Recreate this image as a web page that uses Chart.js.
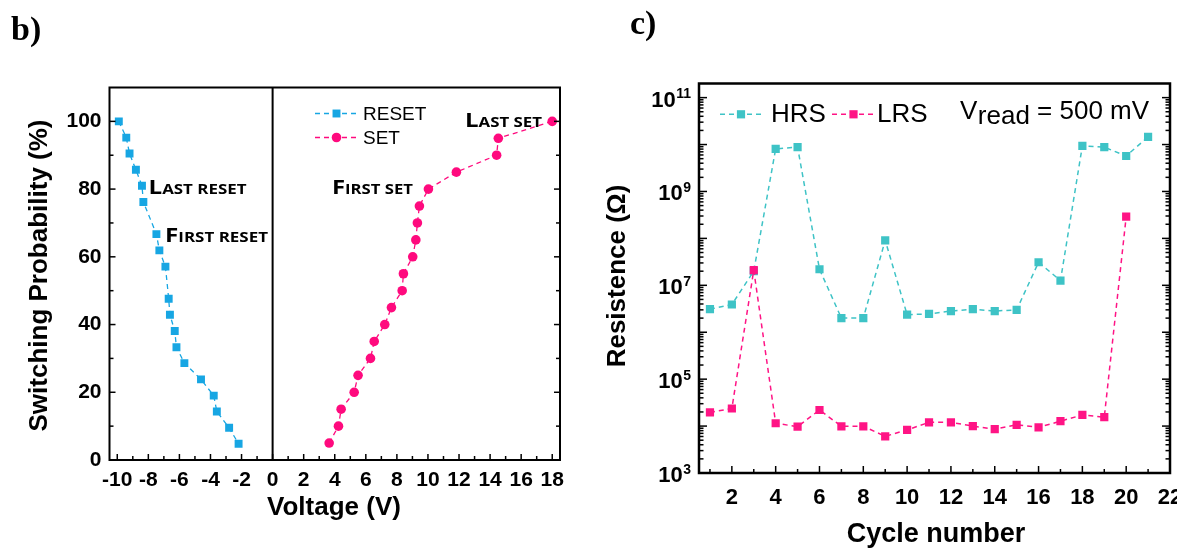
<!DOCTYPE html>
<html>
<head>
<meta charset="utf-8">
<script src="https://cdn.jsdelivr.net/npm/chart.js@4.4.0/dist/chart.umd.min.js"></script>
<style>
  html, body { margin: 0; padding: 0; background: #fff; overflow: hidden; width: 1177px; height: 549px; }
  canvas { position: absolute; top: 0; }
  #chartB { left: 0; }
  #chartC { left: 590px; }
</style>
</head>
<body>
<canvas id="chartB" width="600" height="549"></canvas>
<canvas id="chartC" width="620" height="549"></canvas>
<script>
// panel b - switching probability
const resetVoltage = [-9.9, -9.42, -9.21, -8.8, -8.41, -8.32, -7.48, -7.29, -6.9, -6.69, -6.61, -6.3, -6.19, -5.68, -4.61, -3.79, -3.59, -2.8, -2.19];
const resetProb = [100, 95.2, 90.5, 85.7, 81.0, 76.2, 66.7, 61.9, 57.1, 47.6, 42.9, 38.1, 33.3, 28.6, 23.8, 19.0, 14.3, 9.5, 4.8];
const setVoltage = [3.64, 4.24, 4.41, 5.25, 5.5, 6.3, 6.54, 7.22, 7.65, 8.34, 8.42, 9.02, 9.22, 9.32, 9.45, 10.03, 11.83, 14.42, 14.53, 18.0];
const setProb = [5, 10, 15, 20, 25, 30, 35, 40, 45, 50, 55, 60, 65, 70, 75, 80, 85, 90, 95, 100];
const voltTicks = [-10, -8, -6, -4, -2, 0, 2, 4, 6, 8, 10, 12, 14, 16, 18];
const voltLabels = ['-10', '-8', '-6', '-4', '-2', '0', '2', '4', '6', '8', '10', '12', '14', '16', '18'];
const probTicks = [0, 20, 40, 60, 80, 100];
const probLabels = ['0', '20', '40', '60', '80', '100'];

// panel c - resistance vs cycle
const cycles = [1, 2, 3, 4, 5, 6, 7, 8, 9, 10, 11, 12, 13, 14, 15, 16, 17, 18, 19, 20, 21];
const hrs = [3.1e6, 3.9e6, 2.0e7, 8.1e9, 8.8e9, 2.2e7, 2.0e6, 2.0e6, 9.1e7, 2.37e6, 2.45e6, 2.83e6, 3.1e6, 2.83e6, 3.0e6, 3.1e7, 1.26e7, 9.4e9, 8.8e9, 5.7e9, 1.46e10];
const lrs = [1.95e4, 2.37e4, 2.1e7, 1.15e4, 9.7e3, 2.2e4, 9.9e3, 9.9e3, 6.05e3, 8.3e3, 1.2e4, 1.2e4, 1.0e4, 8.6e3, 1.06e4, 9.4e3, 1.27e4, 1.73e4, 1.55e4, 2.9e8];
const cycleTicks = [2, 4, 6, 8, 10, 12, 14, 16, 18, 20, 22];
const cycleLabels = ['2', '4', '6', '8', '10', '12', '14', '16', '18', '20', '22'];
const resistTicks = [1e3, 1e5, 1e7, 1e9, 1e11];
const resistExponents = ['3', '5', '7', '9', '11'];

const SANS = "'Liberation Sans', Arial, sans-serif";
const BLUE = '#17a6e3';
const PINK = '#ff0a7e';
const TEAL = '#3ec3c6';
const PINK2 = '#ff1485';

function line(ctx, x1, y1, x2, y2) {
  ctx.beginPath(); ctx.moveTo(x1, y1); ctx.lineTo(x2, y2); ctx.stroke();
}

function marker(ctx, style, x, y, r, color) {
  ctx.fillStyle = color;
  ctx.beginPath();
  if (style === 'rect') {
    const s = Math.SQRT1_2 * r;
    ctx.rect(x - s, y - s, 2 * s, 2 * s);
  } else {
    ctx.arc(x, y, r, 0, Math.PI * 2);
  }
  ctx.fill();
}

function legendRow(ctx, ds, x1, x2, y) {
  ctx.save();
  ctx.strokeStyle = ds.borderColor;
  ctx.lineWidth = ds.borderWidth;
  ctx.setLineDash(ds.borderDash);
  line(ctx, x1, y, x2, y);
  ctx.setLineDash([]);
  marker(ctx, ds.pointStyle, (x1 + x2) / 2, y, ds.pointRadius, ds.pointBackgroundColor);
  ctx.restore();
}

// small caps label squeezed to a given width
function capsLabel(ctx, text, x, y, width) {
  const big = text[0], rest = text.slice(1).toUpperCase();
  const fBig = "bold 20px 'Open Sans', sans-serif";
  const fSmall = "bold 14px 'Open Sans', sans-serif";
  ctx.font = fBig; const wb = ctx.measureText(big).width;
  ctx.font = fSmall; const wr = ctx.measureText(rest).width;
  ctx.save();
  ctx.translate(x, y);
  ctx.scale(width / (wb + wr), 1);
  ctx.fillStyle = '#000';
  ctx.textAlign = 'left';
  ctx.textBaseline = 'alphabetic';
  ctx.font = fBig; ctx.fillText(big, 0, 0);
  ctx.font = fSmall; ctx.fillText(rest, wb, 0);
  ctx.restore();
}

function vTitle(ctx, text, x, y, font) {
  ctx.save();
  ctx.translate(x, y);
  ctx.rotate(-Math.PI / 2);
  ctx.font = font;
  ctx.fillStyle = '#000';
  ctx.textAlign = 'center';
  ctx.textBaseline = 'middle';
  ctx.fillText(text, 0, 0);
  ctx.restore();
}

const frameB = {
  id: 'frameB',
  beforeDatasetsDraw(chart) {
    const { ctx, chartArea: a, scales: { x } } = chart;
    ctx.save();
    ctx.strokeStyle = '#000';
    ctx.lineWidth = 2;
    const x0 = x.getPixelForValue(0);
    line(ctx, x0, a.top, x0, a.bottom);
    ctx.restore();
  },
  afterDraw(chart) {
    const { ctx, chartArea: a, scales: { x, y } } = chart;
    ctx.save();
    ctx.strokeStyle = '#000';
    ctx.lineWidth = 1.5;
    for (let v = -10; v <= 18; v++) {
      const px = x.getPixelForValue(v);
      line(ctx, px, a.bottom, px, a.bottom - (v % 2 === 0 ? 6 : 4));
    }
    for (let v = 10; v <= 100; v += 10) {
      const py = y.getPixelForValue(v);
      const len = v % 20 === 0 ? 6 : 4;
      line(ctx, a.left, py, a.left + len, py);
      line(ctx, a.right, py, a.right - len, py);
    }
    ctx.lineWidth = 2;
    ctx.strokeRect(a.left, a.top, a.right - a.left, a.bottom - a.top);

    const ds = chart.data.datasets;
    legendRow(ctx, ds[0], 315, 358, 113.5);
    legendRow(ctx, ds[1], 315, 358, 137.5);
    ctx.fillStyle = '#000';
    ctx.font = '19px ' + SANS;
    ctx.textAlign = 'left';
    ctx.textBaseline = 'alphabetic';
    ctx.fillText('RESET', 363, 120);
    ctx.fillText('SET', 363, 144.3);

    capsLabel(ctx, 'Last reset', 148.5, 194, 98);
    capsLabel(ctx, 'First reset', 165, 241.7, 103);
    capsLabel(ctx, 'First set', 332, 194.3, 81);
    capsLabel(ctx, 'Last set', 465, 126.7, 77);

    ctx.fillStyle = '#000';
    ctx.font = "bold 34px 'Liberation Serif', 'Times New Roman', serif";
    ctx.fillText('b)', 11, 40);

    vTitle(ctx, 'Switching Probability (%)', 40, 275.5, 'bold 26px ' + SANS);
    ctx.font = 'bold 26px ' + SANS;
    ctx.textAlign = 'center';
    ctx.textBaseline = 'middle';
    ctx.fillText('Voltage (V)', 334, 508);
    ctx.restore();
  }
};

const frameC = {
  id: 'frameC',
  afterDraw(chart) {
    const { ctx, chartArea: a, scales: { x, y } } = chart;
    ctx.save();
    ctx.strokeStyle = '#000';
    ctx.lineWidth = 1.5;
    for (let v = 1; v <= 21; v++) {
      const px = x.getPixelForValue(v);
      line(ctx, px, a.bottom, px, a.bottom - (v % 2 === 0 ? 7 : 4));
    }
    for (let e = 3; e <= 11; e++) {
      for (let m = 1; m <= 9; m++) {
        const val = m * Math.pow(10, e);
        if (val <= y.min || val >= y.max) continue;
        const py = y.getPixelForValue(val);
        const len = m === 1 ? 8 : 4.5;
        line(ctx, a.left, py, a.left + len, py);
        line(ctx, a.right, py, a.right - len, py);
      }
    }
    ctx.lineWidth = 2.5;
    ctx.strokeRect(a.left, a.top, a.right - a.left, a.bottom - a.top);

    // y tick labels: 10 with superscript exponent
    ctx.fillStyle = '#000';
    ctx.textAlign = 'right';
    ctx.textBaseline = 'alphabetic';
    resistTicks.forEach((v, i) => {
      const py = y.getPixelForValue(v);
      ctx.font = 'bold 14px ' + SANS;
      const ew = ctx.measureText(resistExponents[i]).width;
      ctx.fillText(resistExponents[i], a.left - 8, py + 0.5);
      ctx.font = 'bold 22px ' + SANS;
      ctx.fillText('10', a.left - 8.5 - ew, py + 9);
    });

    const ds = chart.data.datasets;
    legendRow(ctx, ds[0], 130, 172, 114.3);
    legendRow(ctx, ds[1], 242, 285, 114.3);
    ctx.fillStyle = '#000';
    ctx.font = '26px ' + SANS;
    ctx.textAlign = 'left';
    ctx.textBaseline = 'alphabetic';
    ctx.fillText('HRS', 181, 122);
    ctx.fillText('LRS', 287, 122);
    let vx = 370;
    ctx.fillText('V', vx, 118.5);
    vx += ctx.measureText('V').width + 0.5;
    ctx.fillText('read', vx, 124);
    vx += ctx.measureText('read').width;
    ctx.fillText(' = 500 mV', vx, 118.5);

    ctx.font = "bold 34px 'Liberation Serif', 'Times New Roman', serif";
    ctx.fillText('c)', 40, 34);

    vTitle(ctx, 'Resistence (Ω)', 28, 276, 'bold 26px ' + SANS);
    ctx.font = 'bold 27px ' + SANS;
    ctx.textAlign = 'center';
    ctx.textBaseline = 'middle';
    ctx.fillText('Cycle number', 346, 535);
    ctx.restore();
  }
};

const tickFont = { family: SANS, size: 21, weight: 'bold' };

new Chart(document.getElementById('chartB'), {
  type: 'scatter',
  data: {
    datasets: [{
      label: 'RESET',
      data: resetVoltage.map((v, i) => ({ x: v, y: resetProb[i] })),
      showLine: true,
      borderColor: BLUE,
      borderWidth: 1.3,
      borderDash: [5, 4],
      pointStyle: 'rect',
      pointRadius: 5.6,
      pointBackgroundColor: BLUE,
      pointBorderWidth: 0
    }, {
      label: 'SET',
      data: setVoltage.map((v, i) => ({ x: v, y: setProb[i] })),
      showLine: true,
      borderColor: PINK,
      borderWidth: 1.3,
      borderDash: [5, 4],
      pointStyle: 'circle',
      pointRadius: 4.8,
      pointBackgroundColor: PINK,
      pointBorderWidth: 0
    }]
  },
  options: {
    responsive: false,
    animation: false,
    layout: { padding: { left: 0, top: 87.5, right: 40, bottom: 0 } },
    plugins: { legend: { display: false }, tooltip: { enabled: false } },
    scales: {
      x: {
        type: 'linear', min: -10.5, max: 18.5,
        afterFit: s => { s.height = 89; },
        afterBuildTicks: s => { s.ticks = voltTicks.map(v => ({ value: v })); },
        grid: { display: false, drawTicks: false },
        border: { display: false },
        ticks: { callback: (v, i) => voltLabels[i], font: tickFont, color: '#000', padding: 8, autoSkip: false, maxRotation: 0 }
      },
      y: {
        type: 'linear', min: 0, max: 110,
        afterFit: s => { s.width = 109.5; },
        afterBuildTicks: s => { s.ticks = probTicks.map(v => ({ value: v })); },
        grid: { display: false, drawTicks: false },
        border: { display: false },
        ticks: { callback: (v, i) => probLabels[i], font: tickFont, color: '#000', padding: 8, autoSkip: false }
      }
    }
  },
  plugins: [frameB]
});

new Chart(document.getElementById('chartC'), {
  type: 'scatter',
  data: {
    datasets: [{
      label: 'HRS',
      data: cycles.map((c, i) => ({ x: c, y: hrs[i] })),
      showLine: true,
      order: 1,
      borderColor: TEAL,
      borderWidth: 1.5,
      borderDash: [5, 4],
      pointStyle: 'rect',
      pointRadius: 5.8,
      pointBackgroundColor: TEAL,
      pointBorderWidth: 0
    }, {
      label: 'LRS',
      data: lrs.map((r, i) => ({ x: cycles[i], y: r })),
      showLine: true,
      order: 0,
      borderColor: PINK2,
      borderWidth: 1.5,
      borderDash: [5, 4],
      pointStyle: 'rect',
      pointRadius: 5.8,
      pointBackgroundColor: PINK2,
      pointBorderWidth: 0
    }]
  },
  options: {
    responsive: false,
    animation: false,
    layout: { padding: { left: 0, top: 83.5, right: 40, bottom: 0 } },
    plugins: { legend: { display: false }, tooltip: { enabled: false } },
    scales: {
      x: {
        type: 'linear', min: 0.5, max: 22,
        afterFit: s => { s.height = 76; },
        afterBuildTicks: s => { s.ticks = cycleTicks.map(v => ({ value: v })); },
        grid: { display: false, drawTicks: false },
        border: { display: false },
        ticks: { callback: (v, i) => cycleLabels[i], font: { family: SANS, size: 22, weight: 'bold' }, color: '#000', padding: 12, autoSkip: false, maxRotation: 0 }
      },
      y: {
        type: 'logarithmic', min: 1e3, max: 2e11,
        afterFit: s => { s.width = 109; },
        afterBuildTicks: s => { s.ticks = resistTicks.map(v => ({ value: v })); },
        grid: { display: false, drawTicks: false },
        border: { display: false },
        ticks: { display: false }
      }
    }
  },
  plugins: [frameC]
});
</script>
</body>
</html>
